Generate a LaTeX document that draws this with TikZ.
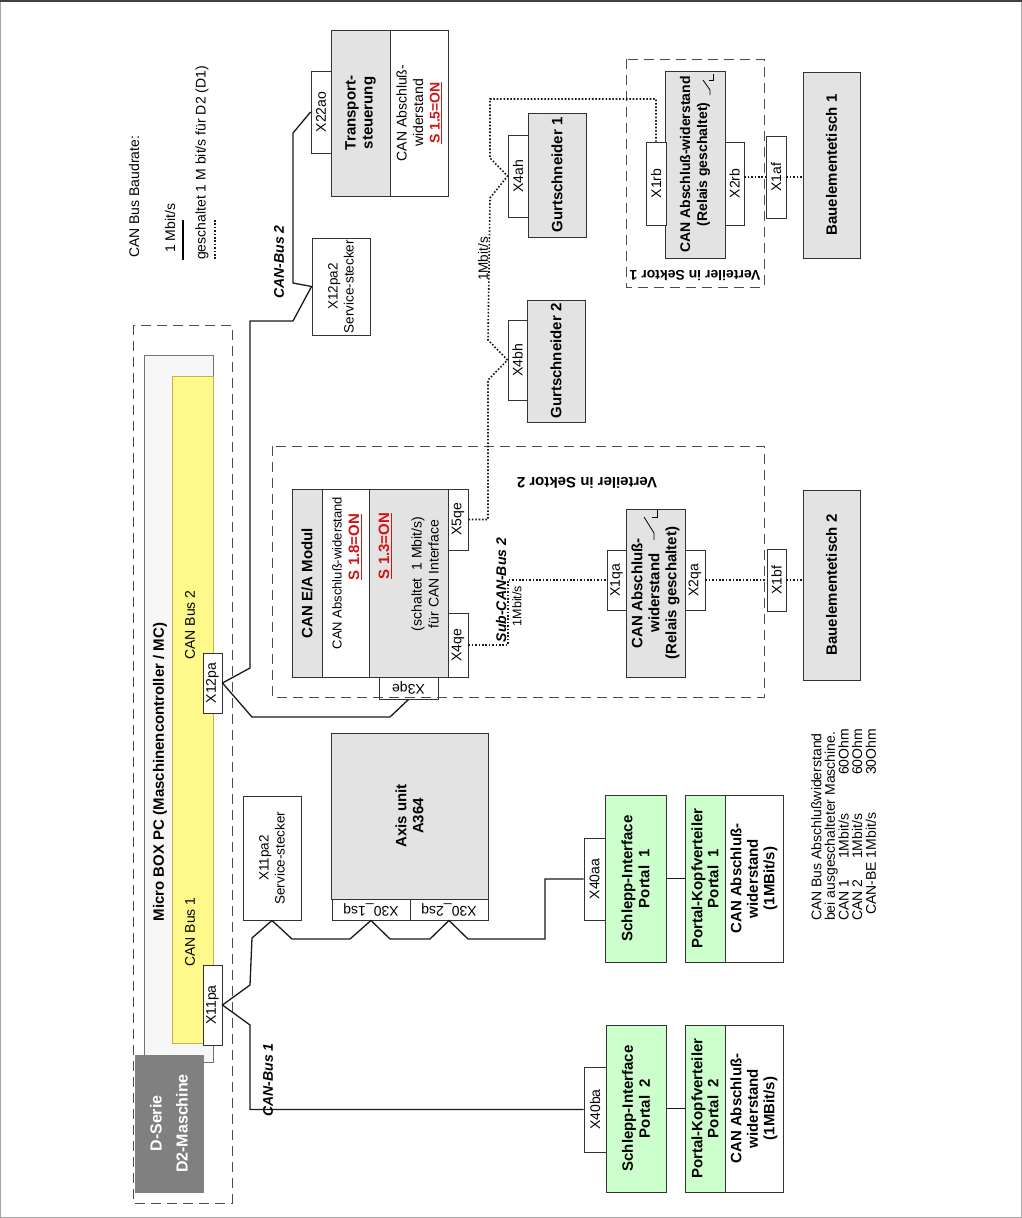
\documentclass[tikz,border=0pt]{standalone}
\usepackage{fontspec}
\setmainfont{Liberation Sans}
\usetikzlibrary{calc}
\newcommand\RBox[7][]{\node[box,rotate=90,minimum width={(#6)-(#5)},minimum height={(#4)-(#3)},#1] (#2) at ({((#3)+(#4))/2},{((#5)+(#6))/2}) {#7};}
\newcommand\HBox[7][]{\node[box,rotate=180,minimum width={(#4)-(#3)},minimum height={(#6)-(#5)},#1] (#2) at ({((#3)+(#4))/2},{((#5)+(#6))/2}) {#7};}
\definecolor{redon}{RGB}{210,20,20}
\begin{document}
\begin{tikzpicture}[x=1pt,y=-1pt,
  box/.style={draw=black!80,line width=0.9pt,align=center,inner sep=1pt,fill=white},
  gf/.style={fill=black!11},
  gr/.style={fill=green!20},
  fn/.style={font=\fontsize{14}{16.5}\selectfont},
  fs/.style={font=\fontsize{13.5}{16}\selectfont},
  fb/.style={font=\fontsize{15}{17}\selectfont\bfseries},
  fbi/.style={font=\fontsize{14}{16}\selectfont\bfseries\itshape},
  bus/.style={line width=1.3pt,black!90},
  sub/.style={line width=1.6pt,dash pattern=on 1.6pt off 1.8pt,black!90},
  grp/.style={draw=black!70,line width=1pt,dash pattern=on 10pt off 6pt},
  lab/.style={inner sep=0pt},
  sw/.style={line width=0.8pt,black}
]
\useasboundingbox (0,0) rectangle (1022,1218);
% frame
\draw[black!35,line width=1pt] (0.5,0.5) rectangle (1021.5,1217.5);
\draw[black!75,line width=1.5pt] (0,1) -- (1022,1);

% legend
\node[fn,rotate=90,anchor=west,lab] (lg1) at (134,258) {CAN Bus Baudrate:};
\node[fn,rotate=90,anchor=west,lab] (lg2) at (170,253) {1 Mbit/s};
\draw[line width=1.3pt] (183,220) -- (183,260);
\node[fn,rotate=90,anchor=west,lab] (lg3) at (202,260) {geschaltet 1 M bit/s für D2 (D1)};
\draw[sub] (215,220) -- (215,260);

% Transportsteuerung
\RBox[gf,fb]{ts}{331}{390}{30}{196}{Transport-\\steuerung}
\RBox[fn]{tsr}{390}{448}{30}{196}{CAN Abschluß-\\widerstand\\\textbf{\textcolor{redon}{\underline{S 1.5=ON}}}}
\RBox[fn]{x22ao}{311}{331}{71}{153}{X22ao}

% Service X12pa2
\RBox[fs]{x12pa2}{312}{370}{238}{335}{X12pa2\\Service-stecker}

% Micro BOX group
\draw[grp] (133,325) rectangle (232,1203);
\RBox[draw=black!55,fill=black!3]{mbox}{144}{213}{355}{1062}{}
\RBox[draw=olive!60,fill=yellow!45,line width=0.5pt]{ybar}{172}{213}{376}{1043}{}
\node[fb,rotate=90] (mtitle) at (160,772) {Micro BOX PC (Maschinencontroller / MC)};
\node[fn,rotate=90] (cb2) at (190,625) {CAN Bus 2};
\node[fn,rotate=90] (cb1) at (190,932) {CAN Bus 1};
\RBox[fn]{x12pa}{203}{222}{653}{713}{X12pa}
\RBox[fn]{x11pa}{203}{222}{965}{1045}{X11pa}
\RBox[draw=black!50,fill=black!50,text=white,font=\fontsize{16}{26}\selectfont\bfseries]{dserie}{135}{203}{1055}{1192}{D-Serie\\D2-Maschine}

% CAN E/A Modul
\RBox[gf,fb]{ea1}{292}{322}{489}{677}{CAN E/A Modul}
\RBox[fn]{ea2}{322}{369}{489}{677}{}
\node[font=\fontsize{13}{15}\selectfont,rotate=90] (ea2t) at (337,573) {CAN Abschluß-widerstand};
\node[fb,rotate=90,text=redon] (ea2s) at (355,547) {\underline{S 1.8=ON}};
\RBox[gf]{ea3}{369}{448}{489}{677}{}
\node[fb,rotate=90,text=redon] (ea3s) at (385,546) {\underline{S 1.3=ON}};
\node[font=\fontsize{14}{17}\selectfont,rotate=90,align=center] (ea3t) at (425,574) {(schaltet~~1 Mbit/s)\\für CAN Interface};
\RBox[fn]{x5qe}{448}{468}{489}{550}{X5qe}
\RBox[fn]{x4qe}{448}{468}{613}{677}{X4qe}
\HBox[fn]{x3qe}{379}{438}{677}{699}{X3qe}

% CAN-Bus 2
\draw[bus] (x22ao.north) -- (293,133) -- (293,283) -- (x12pa2.north) -- (293,321) -- (250,321) -- (250,668) -- (x12pa.south) -- (252,717) -- (390,717) -- (x3qe.north);
\node[fbi,rotate=90] (cbl2) at (279,262) {CAN-Bus 2};

% Sektor 2
\draw[grp] (272,446) rectangle (764,697);
\node[fb,rotate=180] (vs2) at (587,483) {Verteiler in Sektor 2};
\RBox[gf,fb]{rs2}{626}{685}{509}{677}{CAN Abschluß-\\widerstand\\(Relais geschaltet)}
\draw[sw] (657,510) -- (657,517) -- (652,517);
\draw[sw] (644,517) -- (654,533) -- (654,540);
\RBox[fn]{x1qa}{607}{626}{550}{610}{X1qa}
\RBox[fn]{x2qa}{685}{705}{550}{610}{X2qa}
\RBox[fn]{x1bf}{767}{786}{549}{611}{X1bf}
\RBox[gf,fb]{bt2}{803}{860}{490}{680}{Bauelementetisch 2}
\draw[sub] (x4qe.south) -- (508,645) -- (508,580) -- (x1qa.north);
\draw[sub] (x2qa.south) -- (x1bf.north);
\draw[sub] (x1bf.south) -- (x1bf.south -| bt2.north);
\node[fbi,rotate=90] (scb) at (501,590) {Sub-CAN-Bus 2};
\node[font=\fontsize{12.5}{14}\selectfont,rotate=90] (smb) at (517,606) {1Mbit/s};

% Gurtschneider
\RBox[gf,fb]{gs2}{527}{585}{300}{422}{Gurtschneider 2}
\RBox[fn]{x4bh}{508}{527}{320}{400}{X4bh}
\RBox[gf,fb]{gs1}{528}{586}{113}{237}{Gurtschneider 1}
\RBox[fn]{x4ah}{508}{528}{135}{217}{X4ah}
\node[fs,rotate=90] (gmb) at (483,259) {1Mbit/s};

% Sektor 1
\draw[grp] (626,59) rectangle (764,287);
\node[font=\fontsize{14}{16}\selectfont\bfseries,rotate=180] (vs1) at (695,276) {Verteiler in Sektor 1};
\RBox[gf,font=\fontsize{14}{17}\selectfont\bfseries]{rs1}{665}{725}{71}{258}{CAN Abschluß-widerstand\\(Relais geschaltet)}
\draw[sw] (713,74) -- (713,80) -- (709,80);
\draw[sw] (703,80) -- (710,90) -- (710,95);
\RBox[fn]{x1rb}{646}{666}{142}{225}{X1rb}
\RBox[fn]{x2rb}{725}{744}{142}{225}{X2rb}
\RBox[fn]{x1af}{766}{786}{136}{218}{X1af}
\RBox[gf,fb]{bt1}{803}{860}{72}{258}{Bauelementetisch 1}
\draw[sub] (x2rb.south |- x1af.north) -- (x1af.north);
\draw[sub] (x1af.south) -- (x1af.south -| bt1.north);

% dotted upper path
\draw[sub] (x5qe.south) -- (488,519.5) -- (488,380) -- (x4bh.north) -- (488,340) -- (490,198) -- (x4ah.north) -- (490,158) -- (490,99) -- (656,99) -- (x1rb.east);

% Axis unit
\RBox[gf,fb]{axis}{331}{488}{733}{899}{Axis unit\\A364}
\HBox[fn]{x301}{332}{410}{899}{920}{X30\_1sq}
\HBox[fn]{x302}{410}{488}{899}{920}{X30\_2sq}
\RBox[fs]{x11pa2}{243}{301}{796}{920}{X11pa2\\Service-stecker}

% Portal boxes
\RBox[gr,fb]{sp1}{605}{666}{795}{962}{Schlepp-Interface\\Portal~~1}
\RBox[fn]{x40aa}{584}{605}{838}{920}{X40aa}
\RBox[gr,font=\fontsize{15}{16}\selectfont\bfseries]{pk1}{685}{725}{795}{962}{Portal-Kopfverteiler\\Portal~~1}
\RBox[font=\fontsize{15}{16.5}\selectfont\bfseries]{pk1r}{725}{783}{795}{962}{CAN Abschluß-\\widerstand\\(1MBit/s)}
\draw[bus] (sp1.south) -- (pk1.north);
\RBox[gr,fb]{sp2}{606}{666}{1025}{1192}{Schlepp-Interface\\Portal~~2}
\RBox[fn]{x40ba}{584}{606}{1067}{1152}{X40ba}
\RBox[gr,font=\fontsize{15}{16}\selectfont\bfseries]{pk2}{685}{725}{1025}{1192}{Portal-Kopfverteiler\\Portal~~2}
\RBox[font=\fontsize{15}{16.5}\selectfont\bfseries]{pk2r}{725}{783}{1025}{1192}{CAN Abschluß-\\widerstand\\(1MBit/s)}
\draw[bus] (sp2.south) -- (pk2.north);

% CAN-Bus 1
\draw[bus] (x40ba.north) -- (250,1109.5) -- (250,1025) -- (x11pa.south) -- (250,985) -- (252,938) -- (x11pa2.west) -- (292,939) -- (350,939) -- (x301.north) -- (390,939) -- (430,939) -- (x302.north) -- (468,939) -- (545,939) -- (545,879) -- (x40aa.north);
\node[fbi,rotate=90] (cbl1) at (268,1080) {CAN-Bus 1};

% note
\node[rotate=90,anchor=north west,inner sep=0pt,align=left,font=\fontsize{14}{13.6}\selectfont] (note) at (811,921) {CAN Bus Abschlußwiderstand\\bei ausgeschalteter Maschine.\\\makebox[146pt][l]{\makebox[62pt][l]{CAN 1}1Mbit/s}60Ohm\\\makebox[146pt][l]{\makebox[62pt][l]{CAN 2}1Mbit/s}60Ohm\\\makebox[146pt][l]{\hspace{6pt}CAN-BE 1Mbit/s}30Ohm};
\end{tikzpicture}
\end{document}
